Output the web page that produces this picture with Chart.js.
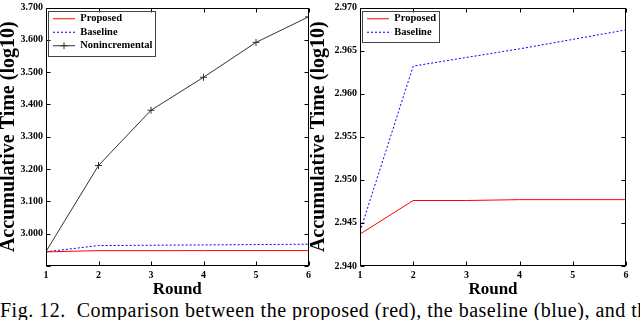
<!doctype html>
<html>
<head>
<title>Accumulative Time</title>
<script src="https://cdn.jsdelivr.net/npm/chart.js@4.4.1/dist/chart.umd.min.js"></script>
<style>
  body { margin: 0; background: #fff; width: 640px; height: 321px; overflow: hidden; position: relative; }
  .box { position: absolute; top: 0; height: 300px; }
  #caption {
    position: absolute; left: 0; top: 300px; width: 640px; overflow: hidden; white-space: nowrap;
    font-family: 'Liberation Serif', 'Times New Roman', serif; font-size: 20px; line-height: 20px;
    letter-spacing: 0.5px; color: #000;
  }
</style>
</head>
<body>
<div class="box" style="left:0; width:314px"><canvas id="left"></canvas></div>
<div class="box" style="left:310px; width:330px"><canvas id="right"></canvas></div>
<div id="caption">Fig. 12.&nbsp; Comparison between the proposed (red), the baseline (blue), and the nonincremental</div>
<script>
// rounds on the x axis
var rounds = [1, 2, 3, 4, 5, 6];
// accumulative time (log10)
var proposed = [2.9437, 2.9476, 2.9476, 2.9477, 2.9477, 2.9477];
var baseline = [2.9440, 2.9632, 2.9642, 2.9652, 2.9663, 2.9674];
var nonincremental = [2.945, 3.211, 3.382, 3.484, 3.592, 3.671];

var leftTicks = [3.0, 3.1, 3.2, 3.3, 3.4, 3.5, 3.6, 3.7];
var rightTicks = [2.940, 2.945, 2.950, 2.955, 2.960, 2.965, 2.970];

var serif = "'Liberation Serif', 'Times New Roman', serif";
Chart.defaults.font.family = serif;
Chart.defaults.color = '#000';

function pts(ys) {
    return rounds.map(function(r, i) { return {x: r, y: ys[i]}; });
}

// matlab style frame: box with inward ticks on all sides, plus legend frame
var framePlugin = {
    id: 'frame',
    afterLayout: function(chart) {
        var lg = chart.legend, a = chart.chartArea;
        var h = lg.height;
        lg.left = a.left + 4; lg.right = lg.left + lg.width;
        lg.top = a.top + 3; lg.bottom = lg.top + h;
    },
    afterDraw: function(chart) {
        var ctx = chart.ctx, a = chart.chartArea;
        var xs = chart.scales.x, ys = chart.scales.y;
        var L = Math.round(a.left) + 0.5, R = Math.round(a.right) - 0.5;
        var T = Math.round(a.top) + 0.5, B = Math.round(a.bottom) - 0.5;
        ctx.save();
        ctx.strokeStyle = '#000';
        ctx.lineWidth = 1;
        ctx.strokeRect(L, T, R - L, B - T);
        ctx.beginPath();
        xs.ticks.forEach(function(t) {
            var px = Math.round(xs.getPixelForValue(t.value)) + 0.5;
            ctx.moveTo(px, B); ctx.lineTo(px, B - 4);
            ctx.moveTo(px, T); ctx.lineTo(px, T + 4);
        });
        ys.ticks.forEach(function(t) {
            var py = Math.round(ys.getPixelForValue(t.value)) + 0.5;
            ctx.moveTo(L, py); ctx.lineTo(L + 4, py);
            ctx.moveTo(R, py); ctx.lineTo(R - 4, py);
        });
        ctx.stroke();

        // legend frame
        var hb = chart.legend.legendHitBoxes;
        if (hb && hb.length) {
            var l = Infinity, r = -Infinity, t = Infinity, b = -Infinity;
            hb.forEach(function(h) {
                l = Math.min(l, h.left); r = Math.max(r, h.left + h.width);
                t = Math.min(t, h.top); b = Math.max(b, h.top + h.height);
            });
            ctx.strokeStyle = '#444';
            ctx.strokeRect(Math.round(l - 5) + 0.5, Math.round(t - 3) + 0.5,
                Math.round(r - l + 8), Math.round(b - t + 7));
            // plus marker on the nonincremental sample
            chart.legend.legendItems.forEach(function(item, i) {
                if (item.text === 'Nonincremental') {
                    var cx = hb[i].left + 11, cy = hb[i].top + hb[i].height / 2;
                    ctx.strokeStyle = '#333';
                    ctx.beginPath();
                    ctx.moveTo(cx - 3.5, cy); ctx.lineTo(cx + 3.5, cy);
                    ctx.moveTo(cx, cy - 3.5); ctx.lineTo(cx, cy + 3.5);
                    ctx.stroke();
                }
            });
        }
        ctx.restore();
    }
};

function makeChart(id, datasets, yMin, yMax, step, yWidth, padRight) {
    return new Chart(document.getElementById(id), {
        type: 'line',
        data: { datasets: datasets },
        plugins: [framePlugin],
        options: {
            responsive: true,
            maintainAspectRatio: false,
            animation: false,
            layout: { padding: { top: 0, right: padRight, bottom: 0, left: 0 } },
            elements: { line: { tension: 0 } },
            plugins: {
                tooltip: { enabled: false },
                legend: {
                    position: 'chartArea',
                    align: 'start',
                    labels: {
                        usePointStyle: true,
                        pointStyleWidth: 22,
                        boxHeight: 10,
                        padding: 3,
                        color: '#000',
                        font: { family: serif, size: 10.5, weight: 'bold' },
                        generateLabels: function(chart) {
                            return chart.data.datasets.map(function(ds, i) {
                                return {
                                    text: ds.label,
                                    fillStyle: ds.borderColor,
                                    strokeStyle: ds.borderColor,
                                    lineWidth: 1,
                                    lineDash: ds.borderDash || [],
                                    pointStyle: 'line',
                                    hidden: false,
                                    datasetIndex: i
                                };
                            });
                        }
                    }
                }
            },
            scales: {
                x: {
                    type: 'linear',
                    min: rounds[0],
                    max: rounds[rounds.length - 1],
                    grid: { display: false, drawTicks: false },
                    border: { display: false },
                    afterBuildTicks: function(s) { s.ticks = rounds.map(function(v) { return {value: v}; }); },
                    afterFit: function(s) { s.height = 34; },
                    ticks: {
                        padding: 3,
                        font: { family: serif, size: 10, weight: 'bold' },
                        callback: function(v) { return String(v); }
                    },
                    title: {
                        display: true, text: 'Round',
                        padding: { top: 0, bottom: 0 },
                        font: { family: serif, size: 17, weight: 'bold' }
                    }
                },
                y: {
                    min: yMin,
                    max: yMax,
                    grid: { display: false, drawTicks: false },
                    border: { display: false },
                    afterBuildTicks: function(s) {
                        var list = [];
                        for (var v = yMin; v <= yMax + step / 2; v += step) list.push({value: +v.toFixed(4)});
                        s.ticks = list;
                    },
                    afterFit: function(s) { s.width = yWidth; },
                    ticks: {
                        padding: 3,
                        font: { family: serif, size: 10, weight: 'bold', lineHeight: 0.9 },
                        callback: function(v) {
                            if (id === 'left' && leftTicks.indexOf(+v.toFixed(1)) < 0) return '';
                            return Number(v).toFixed(3);
                        }
                    },
                    title: {
                        display: true, text: 'Accumulative Time (log10)',
                        padding: { top: id === 'left' ? -3.5 : -3, bottom: 0 },
                        font: { family: serif, size: 20, weight: 'bold' }
                    }
                }
            }
        }
    });
}

var redLine = { label: 'Proposed', borderColor: '#ff0000', backgroundColor: '#ff0000', borderWidth: 1, pointRadius: 0 };
var blueLine = { label: 'Baseline', borderColor: '#0000ff', backgroundColor: '#0000ff', borderWidth: 1, borderDash: [2, 2], pointRadius: 0 };

makeChart('left', [
    Object.assign({ data: pts(proposed) }, redLine),
    Object.assign({ data: pts(baseline) }, blueLine),
    { label: 'Nonincremental', data: pts(nonincremental), borderColor: '#333', backgroundColor: '#333',
      borderWidth: 1, pointStyle: 'cross', pointRadius: 3.5, pointBorderWidth: 1 }
], 2.9, 3.7, 0.1, 46, 3);

makeChart('right', [
    Object.assign({ data: pts(proposed) }, redLine),
    Object.assign({ data: pts(baseline) }, blueLine)
], rightTicks[0], rightTicks[rightTicks.length - 1], 0.005, 50, 14);
</script>
</body>
</html>
